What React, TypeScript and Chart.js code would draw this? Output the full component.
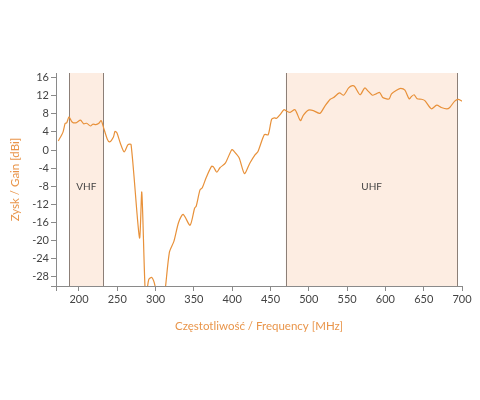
import React, { useEffect, useRef } from 'react';
import { Chart, registerables } from 'chart.js';

Chart.register(...registerables);

// Frequency (MHz) and gain (dBi)
const freqs = [
  173, 179, 182, 184, 187, 191, 196, 202, 206, 210, 215, 218, 222, 226, 229, 232,
  237, 240, 245, 247, 249.5, 254, 259, 264, 268, 279, 282, 287, 291, 295, 299.5,
  303, 310, 318, 324, 330, 336, 345, 351, 353, 358, 361, 366, 373, 375.5, 380,
  384, 391, 399.5, 402.5, 409, 416, 423, 430, 433.5, 442, 447, 451.5, 455, 458,
  462.5, 467.5, 471, 475.5, 482, 489, 493, 499.5, 506, 514.5, 521, 528, 532.5,
  540, 545.5, 552, 557, 560, 567, 573, 577.5, 583, 588, 592.5, 596.5, 601.5, 605,
  608, 614.5, 620, 625.5, 631, 634, 637.5, 641.5, 647, 651.5, 660, 667, 673, 680,
  684, 690.5, 695, 700,
];
const gains = [
  2.0, 3.9, 5.9, 6.0, 7.3, 6.2, 6.0, 6.6, 5.8, 5.9, 5.3, 5.7, 5.6, 5.9, 6.5, 5.0,
  2.4, 1.8, 2.9, 4.1, 3.8, 1.5, -0.4, 1.2, 1.2, -19.4, -9.3, -33, -28.6, -28.1, -30.2,
  -36, -34, -22.6, -20.1, -16, -14.2, -16.6, -12.8, -12.4, -8.8, -8.3, -6.1, -3.6, -3.7, -4.9,
  -3.9, -2.9, 0.1, -0.3, -1.7, -5.2, -2.9, -1.0, -0.4, 3.4, 3.4, 6.8, 7.1, 7.0,
  7.8, 8.9, 8.6, 8.3, 8.9, 6.5, 7.7, 8.8, 8.7, 8.1, 9.7, 11.2, 11.6,
  12.6, 12.1, 13.7, 14.2, 14.0, 12.2, 13.7, 13.0, 12.1, 12.4, 12.7, 11.6, 11.3, 11.3,
  12.4, 13.2, 13.6, 13.2, 11.3, 11.8, 12.2, 11.3, 11.2, 10.9, 9.1, 9.9, 9.4, 9.1,
  9.4, 10.8, 11.2, 10.8,
];

const xTickValues = [170, 200, 250, 300, 350, 400, 450, 500, 550, 600, 650, 700];
const yTickValues = [-30, -28, -24, -20, -16, -12, -8, -4, 0, 4, 8, 12, 16];
const xMin = 170;
const xMax = 700;
const yMin = -30;
const yMax = 17;

const bandNames = ['VHF', 'UHF'];
const bandStarts = [187, 470];
const bandEnds = [232, 694];
const bandLabelGain = -8;

const xTitle = 'Częstotliwość / Frequency [MHz]';
const yTitle = 'Zysk / Gain [dBi]';

const ORANGE = '#e8913a';
const TITLE_ORANGE = '#e9954a';
const AXIS_GRAY = '#8a8a8a';
const TICK_TEXT = '#444444';
const BAND_FILL = '#fdede2';
const BAND_EDGE = '#8c7f77';
const FONT = 'Lato, "Open Sans", sans-serif';

const bandPlugin = {
  id: 'bands',
  beforeDatasetsDraw(chart: any) {
    const { ctx, chartArea, scales } = chart;
    const x = scales.x;
    const y = scales.y;
    ctx.save();
    bandNames.forEach((name, i) => {
      const x0 = x.getPixelForValue(bandStarts[i]);
      const x1 = x.getPixelForValue(bandEnds[i]);
      ctx.fillStyle = BAND_FILL;
      ctx.fillRect(x0, chartArea.top, x1 - x0, chartArea.bottom - chartArea.top);
      ctx.strokeStyle = BAND_EDGE;
      ctx.lineWidth = 1;
      ctx.beginPath();
      ctx.moveTo(Math.round(x0) + 0.5, chartArea.top);
      ctx.lineTo(Math.round(x0) + 0.5, chartArea.bottom);
      ctx.moveTo(Math.round(x1) + 0.5, chartArea.top);
      ctx.lineTo(Math.round(x1) + 0.5, chartArea.bottom);
      ctx.stroke();
      ctx.fillStyle = TICK_TEXT;
      ctx.font = `10px ${FONT}`;
      ctx.textAlign = 'center';
      ctx.textBaseline = 'middle';
      ctx.fillText(name, (x0 + x1) / 2, y.getPixelForValue(bandLabelGain));
    });
    ctx.restore();
  },
};

export default function App() {
  const canvasRef = useRef<HTMLCanvasElement | null>(null);

  useEffect(() => {
    const canvas = canvasRef.current;
    if (!canvas) return;
    const data = freqs.map((f, i) => ({ x: f, y: gains[i] }));
    const chart = new Chart(canvas, {
      type: 'line',
      data: {
        datasets: [
          {
            data,
            borderColor: ORANGE,
            borderWidth: 1.2,
            pointRadius: 0,
            tension: 0.25,
            fill: false,
          },
        ],
      },
      options: {
        animation: false,
        responsive: false,
        maintainAspectRatio: false,
        layout: { padding: { top: 73, right: 18, bottom: 67, left: 0 } },
        plugins: {
          legend: { display: false },
          tooltip: { enabled: false },
        },
        scales: {
          x: {
            type: 'linear',
            min: xMin,
            max: xMax,
            afterBuildTicks: (scale: any) => {
              scale.ticks = xTickValues.map((v) => ({ value: v }));
            },
            afterFit: (scale: any) => {
              scale.height = 47;
            },
            grid: {
              drawOnChartArea: false,
              drawTicks: true,
              tickLength: 5,
              color: AXIS_GRAY,
            },
            border: { color: AXIS_GRAY },
            ticks: {
              autoSkip: false,
              maxRotation: 0,
              padding: 2,
              color: TICK_TEXT,
              font: { family: FONT, size: 11 },
              callback: (v: any) => (v === xMin ? '' : String(v)),
            },
            title: {
              display: true,
              text: xTitle,
              color: TITLE_ORANGE,
              font: { family: FONT, size: 11.5 },
              padding: { top: 12, bottom: 0 },
            },
          },
          y: {
            type: 'linear',
            min: yMin,
            max: yMax,
            afterBuildTicks: (scale: any) => {
              scale.ticks = yTickValues.map((v) => ({ value: v }));
            },
            afterFit: (scale: any) => {
              scale.width = 56;
            },
            grid: {
              drawOnChartArea: false,
              drawTicks: true,
              tickLength: 5,
              color: AXIS_GRAY,
            },
            border: { color: AXIS_GRAY },
            ticks: {
              autoSkip: false,
              padding: 2,
              color: TICK_TEXT,
              font: { family: FONT, size: 11 },
              callback: (v: any) => (v === yMin ? '' : String(v)),
            },
            title: {
              display: true,
              text: yTitle,
              color: TITLE_ORANGE,
              font: { family: FONT, size: 11.5 },
              padding: { top: 8, bottom: 0 },
            },
          },
        },
      },
      plugins: [bandPlugin],
    });
    return () => chart.destroy();
  }, []);

  return (
    <canvas
      ref={canvasRef}
      width={480}
      height={400}
      style={{ position: 'absolute', left: 0, top: 0, width: 480, height: 400 }}
    />
  );
}
